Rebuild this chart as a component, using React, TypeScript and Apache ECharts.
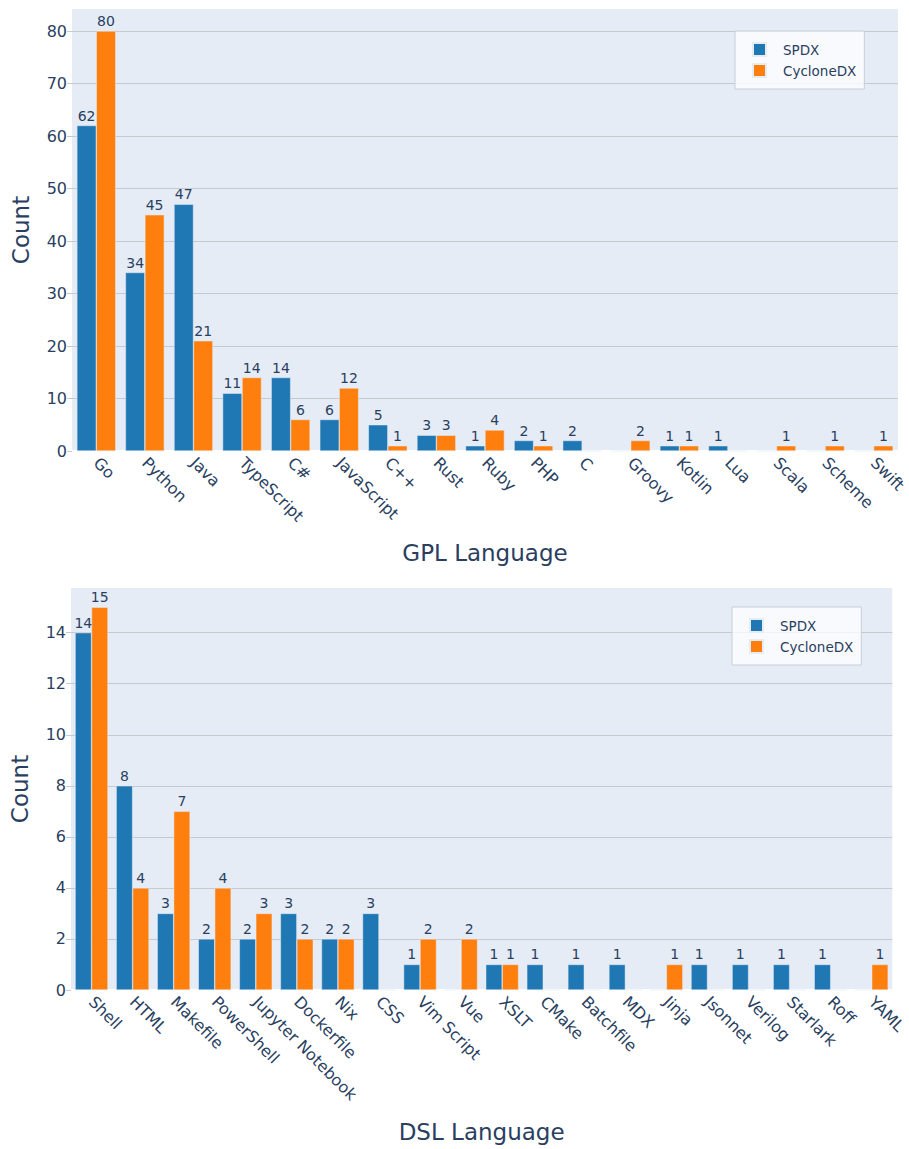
import React, { useEffect, useRef } from "react";
import * as echarts from "echarts";

const gplCategories = ["Go", "Python", "Java", "TypeScript", "C#", "JavaScript", "C++", "Rust", "Ruby", "PHP", "C", "Groovy", "Kotlin", "Lua", "Scala", "Scheme", "Swift"];
const gplSpdx = [62, 34, 47, 11, 14, 6, 5, 3, 1, 2, 2, 0, 1, 1, 0, 0, 0];
const gplCyclone = [80, 45, 21, 14, 6, 12, 1, 3, 4, 1, 0, 2, 1, 0, 1, 1, 1];

const dslCategories = ["Shell", "HTML", "Makefile", "PowerShell", "Jupyter Notebook", "Dockerfile", "Nix", "CSS", "Vim Script", "Vue", "XSLT", "CMake", "Batchfile", "MDX", "Jinja", "Jsonnet", "Verilog", "Starlark", "Roff", "YAML"];
const dslSpdx = [14, 8, 3, 2, 2, 3, 2, 3, 1, 0, 1, 1, 1, 1, 0, 1, 1, 1, 1, 0];
const dslCyclone = [15, 4, 7, 4, 3, 2, 2, 0, 2, 2, 1, 0, 0, 0, 1, 0, 0, 0, 0, 1];

const seriesNames = ["SPDX", "CycloneDX"];
const seriesColors = ["#1f77b4", "#ff7f0e"];

const FONT = "'DejaVu Sans', Verdana, sans-serif";
const TXT = "#2a3f5f";
const GRIDLINE = "#c6c9ce";

export default function App() {
  const ref = useRef<HTMLDivElement>(null);
  useEffect(() => {
    if (!ref.current) return;
    const chart = echarts.init(ref.current, undefined, { renderer: "svg" });

    const makeX = (gridIndex: number, data: string[], name: string, nameGap: number) => ({
      type: "category",
      gridIndex,
      data,
      name,
      nameLocation: "middle",
      nameGap,
      nameTextStyle: { fontFamily: FONT, fontSize: 23, color: TXT },
      axisLine: { show: true, lineStyle: { color: "#ffffff", width: 2 } },
      axisTick: { show: false },
      axisLabel: { rotate: -45, interval: 0, fontFamily: FONT, fontSize: 16, color: TXT, margin: 9 },
    });

    const makeY = (gridIndex: number, max: number, interval: number) => ({
      type: "value",
      gridIndex,
      min: 0,
      max,
      interval,
      name: "Count",
      nameLocation: "middle",
      nameGap: 40,
      nameRotate: 90,
      nameTextStyle: { fontFamily: FONT, fontSize: 23, color: TXT },
      axisLine: { show: false },
      axisTick: { show: true, length: 5, lineStyle: { color: GRIDLINE } },
      splitLine: { show: true, showMaxLine: false, lineStyle: { color: GRIDLINE, width: 1 } },
      axisLabel: {
        fontFamily: FONT,
        fontSize: 16,
        color: TXT,
        margin: 5,
        showMaxLabel: false,
        formatter: (v: number) => (Math.abs(v % interval) < 1e-9 ? String(v) : ""),
      },
    });

    const makeBar = (name: string, color: string, data: number[], idx: number) => ({
      type: "bar",
      name,
      xAxisIndex: idx,
      yAxisIndex: idx,
      data,
      barGap: "0%",
      barCategoryGap: "20%",
      itemStyle: { color, borderColor: "#E5ECF6", borderWidth: 0.5 },
      label: {
        show: true,
        position: "top",
        distance: 3,
        fontFamily: FONT,
        fontSize: 14,
        color: TXT,
        formatter: (p: any) => (p.value === 0 ? "" : String(p.value)),
      },
    });

    const makeLegend = (left: number, top: number) => ({
      orient: "vertical",
      left,
      top,
      data: seriesNames,
      icon: "rect",
      itemWidth: 13,
      itemHeight: 13,
      itemGap: 6,
      padding: [11, 8, 11, 17],
      backgroundColor: "rgba(255,255,255,0.75)",
      borderColor: "#c9cfd9",
      borderWidth: 1,
      textStyle: { fontFamily: FONT, fontSize: 13.5, color: TXT, padding: [0, 0, 0, 12] },
    });

    chart.setOption({
      animation: false,
      textStyle: { fontFamily: FONT },
      grid: [
        { left: 72, right: 3, top: 9, height: 442, show: true, backgroundColor: "#E5ECF6", borderWidth: 0 },
        { left: 71, right: 3, top: 588, height: 402, show: true, backgroundColor: "#E5ECF6", borderWidth: 0 },
      ],
      legend: [makeLegend(735, 31), makeLegend(732, 607)],
      xAxis: [
        makeX(0, gplCategories, "GPL Language", 90),
        makeX(1, dslCategories, "DSL Language", 130),
      ],
      yAxis: [makeY(0, 84.2, 10), makeY(1, 15.75, 2)],
      series: [
        makeBar(seriesNames[0], seriesColors[0], gplSpdx, 0),
        makeBar(seriesNames[1], seriesColors[1], gplCyclone, 0),
        makeBar(seriesNames[0], seriesColors[0], dslSpdx, 1),
        makeBar(seriesNames[1], seriesColors[1], dslCyclone, 1),
      ],
    });
    return () => chart.dispose();
  }, []);
  return (
    <div
      ref={ref}
      style={{ position: "absolute", left: 0, top: 0, width: 909, height: 1149, background: "#ffffff" }}
    />
  );
}
